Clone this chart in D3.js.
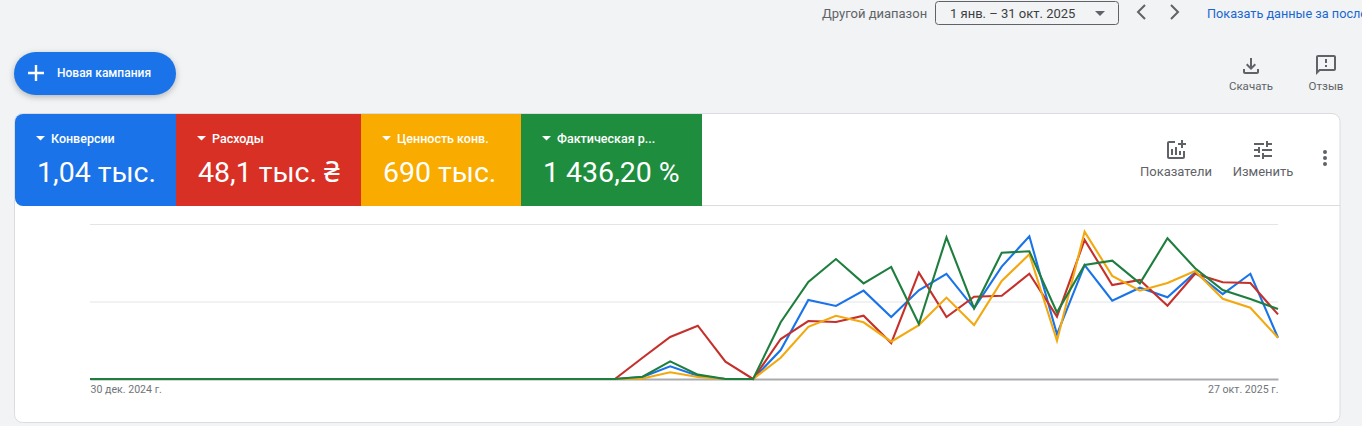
<!DOCTYPE html>
<html>
<head>
<meta charset="utf-8">
<script src="https://cdnjs.cloudflare.com/ajax/libs/d3/7.8.5/d3.min.js"></script>
<style>
html, body { margin: 0; padding: 0; background: #f1f3f4; overflow: hidden; }
svg { display: block; font-family: Roboto, "Noto Sans", sans-serif; }
</style>
</head>
<body>
<svg id="page" width="1362" height="426"></svg>
<script>
var weeks = ["30 дек. 2024 г.", "6 янв.", "13 янв.", "20 янв.", "27 янв.", "3 февр.", "10 февр.", "17 февр.", "24 февр.",
    "3 мар.", "10 мар.", "17 мар.", "24 мар.", "31 мар.", "7 апр.", "14 апр.", "21 апр.", "28 апр.", "5 мая", "12 мая",
    "19 мая", "26 мая", "2 июн.", "9 июн.", "16 июн.", "23 июн.", "30 июн.", "7 июл.", "14 июл.", "21 июл.", "28 июл.",
    "4 авг.", "11 авг.", "18 авг.", "25 авг.", "1 сент.", "8 сент.", "15 сент.", "22 сент.", "29 сент.", "6 окт.",
    "13 окт.", "20 окт.", "27 окт. 2025 г."];

// first 19 weeks are empty in every series
var blank = [0, 0, 0, 0, 0, 0, 0, 0, 0, 0, 0, 0, 0, 0, 0, 0, 0, 0, 0, 0];

var conversions = blank.concat([1.3, 8.2, 2.1, 0, 0, 18.7, 51, 47.1, 57, 40, 57.2, 67.9, 45.6, 72.5, 92.1, 28.8, 73.5, 50.5, 58.9, 52.7, 68.8, 54.8, 67.9, 26.6]);
var costs = blank.concat([13.7, 27.1, 34.4, 11.2, 0, 25.8, 37.4, 36.8, 40.8, 23.2, 68.6, 40, 53.1, 53.7, 67.9, 40.2, 89.7, 60.6, 63.9, 47.3, 67.9, 62.4, 61.9, 41.7]);
var convValue = blank.concat([0.3, 4.3, 1.3, 0, 0, 13.7, 33.7, 40.8, 36.6, 24.1, 34.8, 52.5, 34.8, 63.2, 80.5, 24.7, 95, 66.5, 57, 61.9, 69.7, 51.8, 46, 26.6]);
var actualRoas = blank.concat([1.5, 11.4, 2.8, 0, 0, 36.6, 62.6, 77.4, 61.7, 72.3, 35.5, 91.4, 45.6, 81.5, 82.4, 43, 73.5, 76.3, 61.7, 90.8, 71.4, 57.4, 51.6, 45.2]);

var seriesValues = [conversions, costs, convValue, actualRoas];
var lineColors = ["#1a73e8", "#c5302b", "#f2a90f", "#1e7e3e"];

var tileNames = ["Конверсии", "Расходы", "Ценность конв.", "Фактическая р..."];
var tileTotals = ["1,04 тыс.", "48,1 тыс. ₴", "690 тыс.", "1 436,20 %"];
var tileColors = ["#1a73e8", "#d93025", "#f9ab00", "#1e8e3e"];
var tileEdges = [15, 176, 361, 521, 702];

var gridValues = [50, 100];
var axisLabels = [weeks[0], weeks[weeks.length - 1]];

var svg = d3.select("#page");

function label(parent, x, y, txt, size, color, anchor, weight) {
    return parent.append("text")
        .attr("x", x)
        .attr("y", y)
        .attr("text-anchor", anchor || "start")
        .attr("font-size", size)
        .attr("font-weight", weight || 400)
        .attr("fill", color)
        .text(txt);
}

function icon(path, x, y, scale, color) {
    svg.append("path")
        .attr("d", path)
        .attr("fill", color)
        .attr("transform", "translate(" + x + "," + y + ") scale(" + scale + ")");
}

// top bar
label(svg, 822, 18, "Другой диапазон", 13, "#5f6368");
svg.append("rect")
    .attr("x", 935.5).attr("y", 1.5).attr("width", 183).attr("height", 23).attr("rx", 3)
    .attr("fill", "none").attr("stroke", "#5f6368");
label(svg, 950, 18, "1 янв. – 31 окт. 2025", 13, "#3c4043");
svg.append("path").attr("d", "M1095 11h10l-5 5z").attr("fill", "#5f6368");
svg.append("path").attr("d", "M1145 5l-7 7 7 7M1171 5l7 7-7 7")
    .attr("fill", "none").attr("stroke", "#5f6368").attr("stroke-width", 2);
label(svg, 1207, 18, "Показать данные за последние 30 дней", 12.7, "#1967d2", "start", 400);

// new campaign button
svg.append("rect")
    .attr("x", 14).attr("y", 52).attr("width", 162).attr("height", 43).attr("rx", 21.5)
    .attr("fill", "#1a73e8")
    .style("filter", "drop-shadow(0 2px 3px rgba(60,64,67,0.35))");
svg.append("path").attr("d", "M36 65v16M28 73h16").attr("stroke", "#fff").attr("stroke-width", 2.4);
label(svg, 57, 77, "Новая кампания", 12, "#fff", "start", 500);

icon("M18 15v3H6v-3H4v3c0 1.1.9 2 2 2h12c1.1 0 2-.9 2-2v-3h-2zm-1-4l-1.41-1.41L13 12.17V4h-2v8.17L8.41 9.59 7 11l5 5 5-5z", 1239, 54, 1, "#5f6368");
label(svg, 1251, 90, "Скачать", 11.5, "#5f6368", "middle");
icon("M20 2H4c-1.1 0-1.99.9-1.99 2L2 22l4-4h14c1.1 0 2-.9 2-2V4c0-1.1-.9-2-2-2zm0 14H5.17L4 17.17V4h16v12zM11 12h2v2h-2zm0-6h2v4h-2z", 1314, 53, 1, "#5f6368");
label(svg, 1326, 90, "Отзыв", 11.5, "#5f6368", "middle");

// card
svg.append("rect")
    .attr("x", 14.5).attr("y", 113.5).attr("width", 1325.5).attr("height", 309).attr("rx", 8)
    .attr("fill", "#fff").attr("stroke", "#dadce0");

svg.append("clipPath").attr("id", "cardTop").append("rect")
    .attr("x", 15).attr("y", 114).attr("width", 1325).attr("height", 92).attr("rx", 8);

var tiles = svg.append("g").attr("clip-path", "url(#cardTop)")
    .selectAll("g")
    .data(tileNames)
    .enter().append("g");

tiles.append("rect")
    .attr("x", function (d, i) { return tileEdges[i]; })
    .attr("y", 114)
    .attr("width", function (d, i) { return tileEdges[i + 1] - tileEdges[i]; })
    .attr("height", 92)
    .attr("fill", function (d, i) { return tileColors[i]; });

tiles.append("path")
    .attr("d", function (d, i) {
        var left = tileEdges[i] + 21;
        return "M" + left + " 136h9l-4.5 4.5z";
    })
    .attr("fill", "#fff");

tiles.append("text")
    .attr("x", function (d, i) { return tileEdges[i] + 36; })
    .attr("y", 143)
    .attr("font-size", 12.5)
    .attr("font-weight", 500)
    .attr("fill", "#fff")
    .text(function (d) { return d; });

tiles.append("text")
    .attr("x", function (d, i) { return tileEdges[i] + 22; })
    .attr("y", 182)
    .attr("font-size", 28.5)
    .attr("fill", "#fff")
    .text(function (d, i) { return tileTotals[i]; });

svg.append("line")
    .attr("x1", 702).attr("x2", 1340).attr("y1", 205.5).attr("y2", 205.5)
    .attr("stroke", "#dadce0");

icon("M22 5v2h-3v3h-2V7h-3V5h3V2h2v3h3zm-3 14H5V5h6V3H5c-1.1 0-2 .9-2 2v14c0 1.1.9 2 2 2h14c1.1 0 2-.9 2-2v-6h-2v6zm-4-6v4h2v-4h-2zm-4 4h2V9h-2v8zm-2 0v-6H7v6h2z", 1164, 138, 1, "#5f6368");
label(svg, 1176, 176, "Показатели", 13, "#5f6368", "middle");
icon("M3 17v2h6v-2H3zM3 5v2h10V5H3zm10 16v-2h8v-2h-8v-2h-2v6h2zM7 9v2H3v2h4v2h2V9H7zm14 4v-2H11v2h10zm-6-4h2V7h4V5h-4V3h-2v6z", 1251, 138, 1, "#5f6368");
label(svg, 1263, 176, "Изменить", 13, "#5f6368", "middle");
svg.selectAll("circle.more")
    .data([152, 158, 164])
    .enter().append("circle")
    .attr("class", "more")
    .attr("cx", 1325).attr("cy", function (d) { return d; }).attr("r", 2)
    .attr("fill", "#5f6368");

// chart
var x = d3.scalePoint().domain(weeks).range([90, 1278]);
var y = d3.scaleLinear().domain([0, 100]).range([379, 224]);

svg.append("g")
    .selectAll("line")
    .data(gridValues)
    .enter().append("line")
    .attr("x1", 90).attr("x2", 1278)
    .attr("y1", function (d) { return y(d) + 0.5; })
    .attr("y2", function (d) { return y(d) + 0.5; })
    .attr("stroke", "#e3e4e6");

var axis = svg.append("g")
    .attr("transform", "translate(0,379)")
    .call(d3.axisBottom(x).tickValues(axisLabels).tickSize(0).tickPadding(6));
axis.select(".domain").attr("stroke", "#a9abae").attr("stroke-width", 2);
axis.selectAll("text")
    .attr("font-family", "Roboto, sans-serif")
    .attr("font-size", 10.6)
    .attr("fill", "#70757a")
    .attr("text-anchor", function (d, i) { return i === 0 ? "start" : "end"; });

var line = d3.line()
    .x(function (d, i) { return x(weeks[i]); })
    .y(function (d) { return y(d); });

svg.append("g")
    .selectAll("path")
    .data(seriesValues)
    .enter().append("path")
    .attr("d", line)
    .attr("fill", "none")
    .attr("stroke", function (d, i) { return lineColors[i]; })
    .attr("stroke-width", 2.1)
    .attr("stroke-linejoin", "miter");
</script>
</body>
</html>
